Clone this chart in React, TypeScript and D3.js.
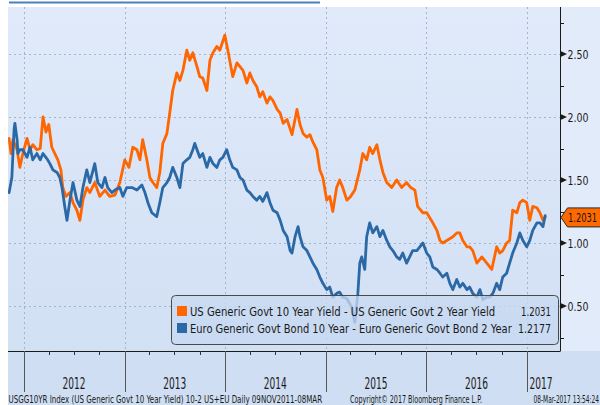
import React, { useLayoutEffect, useRef, useState } from 'react';
import * as d3 from 'd3';

type Pt = [string, number];

const usSeries: Pt[] = [
  ["2011-11-09",1.83],["2011-11-16",1.71],["2011-11-23",1.82],["2011-12-08",1.74],["2011-12-18",1.60],["2011-12-29",1.71],
  ["2012-01-13",1.83],["2012-01-24",1.74],["2012-02-03",1.78],["2012-02-18",1.74],["2012-03-01",1.75],["2012-03-11",2.00],
  ["2012-03-22",1.88],["2012-04-01",1.94],["2012-04-12",1.76],["2012-04-23",1.71],["2012-05-04",1.66],["2012-05-15",1.58],
  ["2012-05-22",1.44],["2012-06-02",1.37],["2012-06-17",1.40],["2012-06-28",1.32],["2012-07-12",1.26],["2012-07-23",1.18],
  ["2012-08-03",1.34],["2012-08-17",1.44],["2012-08-28",1.40],["2012-09-15",1.48],["2012-10-03",1.37],["2012-10-22",1.42],
  ["2012-11-08",1.37],["2012-11-27",1.38],["2012-12-15",1.48],
  ["2013-01-02",1.66],["2013-01-17",1.60],["2013-01-31",1.76],["2013-02-15",1.74],["2013-02-26",1.66],["2013-03-08",1.82],
  ["2013-03-23",1.66],["2013-04-03",1.52],["2013-04-14",1.48],["2013-04-28",1.44],["2013-05-09",1.56],["2013-05-20",1.79],
  ["2013-06-04",1.87],["2013-06-14",2.03],["2013-06-25",2.21],["2013-07-10",2.35],["2013-07-21",2.29],["2013-08-01",2.37],
  ["2013-08-15",2.53],["2013-08-26",2.45],["2013-09-06",2.51],["2013-09-21",2.40],["2013-10-01",2.32],["2013-10-12",2.31],
  ["2013-10-27",2.21],["2013-11-07",2.45],["2013-11-18",2.51],["2013-12-02",2.56],["2013-12-13",2.53],["2013-12-31",2.65],
  ["2014-01-11",2.53],["2014-01-29",2.32],["2014-02-13",2.43],["2014-02-24",2.40],["2014-03-07",2.37],["2014-03-21",2.27],
  ["2014-04-01",2.35],["2014-04-12",2.29],["2014-04-26",2.24],["2014-05-07",2.16],["2014-05-18",2.20],["2014-06-02",2.11],
  ["2014-06-13",2.16],["2014-06-24",2.13],["2014-07-09",2.06],["2014-07-20",2.03],["2014-07-31",1.95],["2014-08-14",1.98],
  ["2014-09-01",1.86],["2014-09-19",2.06],["2014-09-30",1.94],["2014-10-11",1.87],["2014-10-25",1.84],["2014-11-05",1.86],
  ["2014-11-16",1.80],["2014-11-30",1.74],["2014-12-11",1.58],["2014-12-22",1.52],
  ["2015-01-05",1.34],["2015-01-16",1.37],["2015-01-27",1.25],["2015-02-10",1.44],["2015-02-21",1.50],["2015-03-04",1.44],
  ["2015-03-19",1.34],["2015-04-02",1.37],["2015-04-17",1.42],["2015-05-05",1.58],["2015-05-16",1.71],["2015-05-30",1.66],
  ["2015-06-10",1.76],["2015-06-21",1.71],["2015-07-06",1.78],["2015-07-17",1.66],["2015-07-28",1.56],["2015-08-11",1.48],
  ["2015-08-29",1.44],["2015-09-16",1.50],["2015-10-04",1.44],["2015-10-22",1.48],["2015-11-06",1.44],["2015-11-21",1.42],
  ["2015-12-01",1.29],["2015-12-20",1.24],
  ["2016-01-03",1.24],["2016-01-14",1.20],["2016-01-25",1.16],["2016-02-09",1.10],["2016-02-20",1.02],["2016-03-01",1.00],
  ["2016-03-16",1.02],["2016-04-07",1.05],["2016-04-21",1.08],["2016-05-02",1.08],["2016-05-13",1.02],["2016-05-28",0.97],
  ["2016-06-07",0.97],["2016-06-18",0.94],["2016-07-03",0.84],["2016-07-21",0.89],["2016-08-08",0.84],["2016-08-26",0.79],
  ["2016-09-13",0.97],["2016-09-24",0.92],["2016-10-05",0.94],["2016-10-19",1.00],["2016-10-30",1.02],["2016-11-10",1.26],
  ["2016-11-25",1.24],["2016-12-06",1.32],["2016-12-17",1.34],["2016-12-31",1.32],
  ["2017-01-11",1.18],["2017-01-22",1.29],["2017-02-06",1.28],["2017-02-17",1.24],["2017-02-28",1.18],["2017-03-08",1.2031],
];

const euSeries: Pt[] = [
  ["2011-11-09",1.40],["2011-11-19",1.52],["2011-11-27",1.90],["2011-11-30",1.95],["2011-12-08",1.82],["2011-12-11",1.71],
  ["2011-12-18",1.74],["2011-12-29",1.74],
  ["2012-01-13",1.68],["2012-01-24",1.76],["2012-02-03",1.66],["2012-02-18",1.71],["2012-03-01",1.66],["2012-03-11",1.71],
  ["2012-03-25",1.67],["2012-04-05",1.63],["2012-04-16",1.58],["2012-05-01",1.56],["2012-05-11",1.52],["2012-05-19",1.44],
  ["2012-05-29",1.29],["2012-06-06",1.18],["2012-06-17",1.34],["2012-06-28",1.48],["2012-07-12",1.34],["2012-07-23",1.29],
  ["2012-08-03",1.44],["2012-08-17",1.58],["2012-08-28",1.48],["2012-09-15",1.63],["2012-09-26",1.48],["2012-10-11",1.44],
  ["2012-10-22",1.52],["2012-11-01",1.44],["2012-11-16",1.40],["2012-11-27",1.42],["2012-12-15",1.44],["2012-12-26",1.37],
  ["2013-01-09",1.44],["2013-01-28",1.44],["2013-02-15",1.42],["2013-03-05",1.46],["2013-03-16",1.40],["2013-03-27",1.32],
  ["2013-04-10",1.24],["2013-04-28",1.21],["2013-05-09",1.32],["2013-05-20",1.44],["2013-06-04",1.48],["2013-06-14",1.52],
  ["2013-06-25",1.60],["2013-07-10",1.52],["2013-07-21",1.44],["2013-08-01",1.63],["2013-08-15",1.66],["2013-08-26",1.68],
  ["2013-09-06",1.74],["2013-09-13",1.79],["2013-10-01",1.68],["2013-10-12",1.71],["2013-10-27",1.60],["2013-11-07",1.68],
  ["2013-11-18",1.63],["2013-12-02",1.60],["2013-12-13",1.66],["2013-12-24",1.68],
  ["2014-01-07",1.74],["2014-01-18",1.66],["2014-01-29",1.60],["2014-02-13",1.58],["2014-02-24",1.52],["2014-03-07",1.50],
  ["2014-03-21",1.42],["2014-04-01",1.40],["2014-04-12",1.37],["2014-04-26",1.34],["2014-05-07",1.37],["2014-05-18",1.33],
  ["2014-06-02",1.40],["2014-06-13",1.32],["2014-06-24",1.26],["2014-07-09",1.24],["2014-07-20",1.18],["2014-07-31",1.10],
  ["2014-08-14",1.05],["2014-08-25",0.94],["2014-09-01",0.92],["2014-09-12",1.05],["2014-09-23",1.13],["2014-09-30",1.05],
  ["2014-10-11",0.97],["2014-10-25",0.94],["2014-11-05",0.89],["2014-11-16",0.84],["2014-11-30",0.79],["2014-12-11",0.73],
  ["2014-12-22",0.68],
  ["2015-01-05",0.63],["2015-01-16",0.65],["2015-01-27",0.57],["2015-02-10",0.60],["2015-02-21",0.61],["2015-03-04",0.57],
  ["2015-03-19",0.56],["2015-04-06",0.49],["2015-04-17",0.37],["2015-04-28",0.60],["2015-05-05",0.84],["2015-05-12",0.89],
  ["2015-05-23",0.79],["2015-05-30",1.05],["2015-06-10",1.16],["2015-06-21",1.08],["2015-07-06",1.13],["2015-07-17",1.05],
  ["2015-07-28",1.10],["2015-08-11",1.02],["2015-08-22",0.97],["2015-09-02",0.94],["2015-09-16",0.89],["2015-09-27",0.87],
  ["2015-10-08",0.92],["2015-10-22",0.84],["2015-11-02",0.89],["2015-11-13",0.94],["2015-11-28",0.94],["2015-12-09",0.97],
  ["2015-12-20",1.00],
  ["2016-01-03",0.92],["2016-01-14",0.89],["2016-01-25",0.81],["2016-02-09",0.79],["2016-02-20",0.76],["2016-03-01",0.73],
  ["2016-03-16",0.76],["2016-03-27",0.68],["2016-04-07",0.63],["2016-04-21",0.71],["2016-05-02",0.65],["2016-05-13",0.68],
  ["2016-05-28",0.63],["2016-06-07",0.65],["2016-06-18",0.60],["2016-07-03",0.57],["2016-07-14",0.63],["2016-07-25",0.55],
  ["2016-08-08",0.57],["2016-08-19",0.57],["2016-08-30",0.60],["2016-09-13",0.68],["2016-09-24",0.63],["2016-10-05",0.73],
  ["2016-10-19",0.76],["2016-10-30",0.84],["2016-11-10",0.92],["2016-11-25",1.00],["2016-12-06",1.08],["2016-12-17",1.02],
  ["2016-12-31",0.97],
  ["2017-01-11",1.02],["2017-01-22",1.10],["2017-02-06",1.16],["2017-02-17",1.16],["2017-02-28",1.13],["2017-03-08",1.2177],
];

const yMajorTicks = [0.5, 1.0, 1.5, 2.0, 2.5];
const yMinorTicks = [0.25, 0.75, 1.25, 1.75, 2.25, 2.75];
const yearTicks = ["2012", "2013", "2014", "2015", "2016", "2017"];
const legendLabels = [
  "US Generic Govt 10 Year Yield - US Generic Govt 2 Year Yield",
  "Euro Generic Govt Bond 10 Year - Euro Generic Govt Bond 2 Year",
];
const legendValues = ["1.2031", "1.2177"];
const lastTag = "1.2031";
const footerLeft = "USGG10YR Index (US Generic Govt 10 Year Yield) 10-2 US+EU  Daily 09NOV2011-08MAR";
const footerMid = "Copyright\u00A9 2017 Bloomberg Finance L.P.";
const footerRight = "08-Mar-2017 13:54:24";

const ORANGE = "#ff6600";
const BLUE = "#2b69a6";
const FONT = "'DejaVu Sans', sans-serif";

type FitProps = {
  x: number; y: number; width: number; anchor?: "start" | "middle" | "end";
  size: number; fill?: string; children: string;
};

function FitText({ x, y, width, anchor = "start", size, fill = "#1a1a1a", children }: FitProps) {
  const ref = useRef<SVGTextElement>(null);
  const [s, setS] = useState(0.6);
  useLayoutEffect(() => {
    if (ref.current) {
      const w = ref.current.getComputedTextLength();
      if (w > 0) setS(width / w);
    }
  }, [children, width, size]);
  const x0 = anchor === "middle" ? x - width / 2 : anchor === "end" ? x - width : x;
  return (
    <text ref={ref} transform={`translate(${x0},${y}) scale(${s},1)`} x={0} y={0}
      fontFamily={FONT} fontSize={size} fill={fill}>{children}</text>
  );
}

export default function App() {
  const parse = d3.timeParse("%Y-%m-%d");
  const L = 8, R = 560.5, T = 7, B = 351;
  const x = d3.scaleTime()
    .domain([parse("2012-01-01") as Date, parse("2017-01-01") as Date])
    .range([23.7, 527]);
  const y = d3.scaleLinear().domain([0.5, 2.5]).range([306, 54]);
  const line = d3.line<Pt>()
    .x(d => x(parse(d[0]) as Date))
    .y(d => y(d[1]));

  const yearDates = yearTicks.map(s => parse(s + "-01-01") as Date);
  const quarterTicks = d3.timeMonth.every(3)!
    .range(parse("2011-10-01") as Date, parse("2017-03-09") as Date)
    .filter(d => d.getMonth() !== 0)
    .map(d => x(d))
    .filter(px => px > L && px < R);

  const plotEndX = x(parse("2017-03-08") as Date) + 10;
  const tagY = y(1.2031);

  return (
    <svg width={600} height={405} style={{ position: "absolute", left: 0, top: 0 }}
      xmlns="http://www.w3.org/2000/svg">
      <defs>
        <linearGradient id="bg" x1="0" y1="0" x2="0" y2="1">
          <stop offset="0%" stopColor="#e0eafa" />
          <stop offset="100%" stopColor="#d2e0f4" />
        </linearGradient>
        <clipPath id="plotClip">
          <rect x={L} y={T} width={R - L} height={B - T} />
        </clipPath>
      </defs>
      <rect x={0} y={0} width={600} height={405} fill="#ffffff" />
      {/* title link underline (cut off) */}
      <line x1={9} x2={320} y1={2.5} y2={2.5} stroke="#4a7fc1" strokeWidth={2} />
      {/* plot background */}
      <rect x={L} y={T} width={R - L} height={B - T} fill="url(#bg)" />
      <rect x={R} y={T} width={600 - R} height={B - T} fill="#e2ebf9" />
      {/* bottom band */}
      <rect x={L} y={B} width={600 - L} height={405 - B} fill="#cfdef2" />

      {/* grid */}
      <g stroke="#a7b3c6" strokeWidth={1} strokeDasharray="2,3">
        {yMajorTicks.map(v => (
          <line key={"h" + v} x1={L + 1} x2={R} y1={Math.round(y(v)) + 0.5} y2={Math.round(y(v)) + 0.5} />
        ))}
        {yearDates.map((d, i) => (
          <line key={"v" + i} x1={Math.round(x(d)) + 0.5} x2={Math.round(x(d)) + 0.5} y1={T} y2={B} />
        ))}
      </g>

      {/* series */}
      <g clipPath="url(#plotClip)" fill="none" strokeLinejoin="round" strokeLinecap="round">
        <path d={line(usSeries) || ""} stroke={ORANGE} strokeWidth={2.8} />
        <path d={line(euSeries) || ""} stroke={BLUE} strokeWidth={2.8} />
      </g>

      {/* legend */}
      <g>
        <rect x={171.5} y={295.5} width={387} height={49} rx={4} ry={4}
          fill="#c6d8f1" fillOpacity={0.78} stroke="#4a4a4a" strokeWidth={1} />
        {legendLabels.map((lab, i) => (
          <g key={lab}>
            <rect x={177} y={306 + i * 17} width={10} height={10} fill={i === 0 ? ORANGE : BLUE} />
            <FitText x={190} y={315.5 + i * 17} width={i === 0 ? 305 : 322} size={12.5}>{lab}</FitText>
            <FitText x={551} y={315.5 + i * 17} width={i === 0 ? 30 : 33} anchor="end" size={12.5}>{legendValues[i]}</FitText>
          </g>
        ))}
      </g>

      {/* right axis */}
      <line x1={R} x2={R} y1={T} y2={B} stroke="#1a1a1a" strokeWidth={1} />
      {yMinorTicks.map(v => (
        <line key={"m" + v} x1={R} x2={R + 3.5} y1={Math.round(y(v)) + 0.5} y2={Math.round(y(v)) + 0.5}
          stroke="#1a1a1a" strokeWidth={1} />
      ))}
      {yMajorTicks.map(v => (
        <g key={"t" + v}>
          <path d={`M${R},${y(v) - 3}L${R + 6.5},${y(v)}L${R},${y(v) + 3}Z`} fill="#1a1a1a" />
          <FitText x={567.5} y={y(v) + 4.5} width={21} size={13}>{v.toFixed(2)}</FitText>
        </g>
      ))}

      {/* last value tag */}
      <path d={`M${R + 0.5},${tagY}L${R + 7},${tagY - 9.5}L${602},${tagY - 9.5}L${602},${tagY + 9.5}L${R + 7},${tagY + 9.5}Z`}
        fill="#ff6a00" stroke="#2a2a2a" strokeWidth={1} />
      <FitText x={568} y={tagY + 4.5} width={29} size={13} fill="#111">{lastTag}</FitText>

      {/* x axis */}
      <line x1={L} x2={R} y1={B + 0.5} y2={B + 0.5} stroke="#1a1a1a" strokeWidth={1} />
      {quarterTicks.map((px, i) => (
        <line key={"q" + i} x1={Math.round(px) + 0.5} x2={Math.round(px) + 0.5} y1={B} y2={B + 4}
          stroke="#333" strokeWidth={1} />
      ))}
      {yearDates.map((d, i) => (
        <line key={"s" + i} x1={Math.round(x(d)) + 0.5} x2={Math.round(x(d)) + 0.5} y1={B} y2={392}
          stroke="#555" strokeWidth={1} />
      ))}
      {yearTicks.map((lab, i) => {
        const x0 = x(yearDates[i]);
        const x1 = i < yearTicks.length - 1 ? x(yearDates[i + 1]) : Math.min(plotEndX, R - 5);
        return (
          <FitText key={lab} x={(x0 + x1) / 2} y={388.5} width={23} anchor="middle" size={15}>{lab}</FitText>
        );
      })}

      {/* footer */}
      <FitText x={8.5} y={403} width={314} size={10}>{footerLeft}</FitText>
      <FitText x={350} y={403} width={132} size={10}>{footerMid}</FitText>
      <FitText x={533.5} y={403} width={65.5} size={10}>{footerRight}</FitText>
    </svg>
  );
}
